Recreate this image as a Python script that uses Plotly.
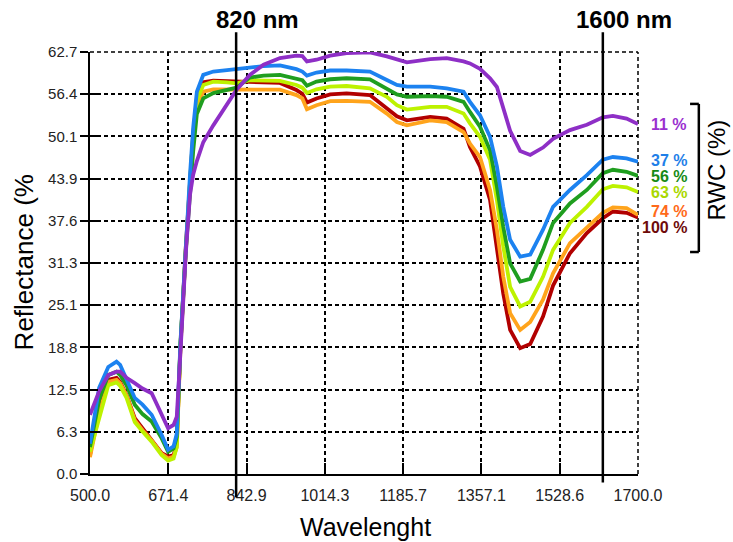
import plotly.graph_objects as go

# ---------------- data ----------------
wavelength = [500, 520, 540, 558, 566, 580, 598, 615, 635, 657, 671, 683, 690, 698, 710, 719, 726, 734,
              748, 770, 800, 821, 850, 880, 916, 952, 965, 975, 996, 1026, 1062, 1113, 1150, 1172, 1194,
              1245, 1281, 1318, 1332, 1354, 1376, 1391, 1405, 1420, 1442, 1464, 1492, 1514, 1551, 1588,
              1623, 1645, 1675, 1700]

rwc_11 = [8.8, 12.3, 14.7, 15.2, 15.2, 14.3, 13.5, 12.7, 12.0, 8.8, 6.8, 7.3, 8.5, 18.0, 33.0, 41.5, 44.5, 46.5,
          49.3, 51.8, 55.0, 57.1, 59.3, 60.8, 61.8, 62.15, 62.1, 61.3, 61.55, 62.15, 62.55, 62.65, 62.05, 61.55, 61.15,
          61.65, 61.8, 61.3, 61.0, 60.2, 58.8, 57.5, 54.5, 51.0, 48.0, 47.4, 48.5, 49.8, 51.1, 51.9,
          53.0, 53.2, 52.8, 52.0]
rwc_37 = [4.5, 12.8, 15.9, 16.7, 16.2, 14.0, 11.3, 10.3, 8.8, 5.8, 3.6, 4.1, 6.0, 19.5, 34.5, 44.5, 51.5, 56.8,
          59.3, 59.8, 60.0, 60.15, 60.45, 60.6, 60.7, 60.15, 59.8, 59.2, 59.65, 59.95, 59.95, 59.8, 58.55, 57.8, 57.55,
          57.55, 57.3, 56.8, 55.3, 53.3, 50.1, 45.7, 39.7, 34.8, 32.3, 32.6, 36.3, 39.7, 42.2, 44.4,
          46.7, 47.1, 46.9, 46.4]
rwc_56 = [4.0, 11.0, 14.7, 15.2, 14.7, 13.2, 10.3, 8.9, 7.8, 5.3, 3.3, 3.8, 5.5, 19.0, 33.5, 42.0, 48.0, 53.5,
          55.8, 56.6, 57.1, 57.4, 58.9, 59.2, 59.3, 58.8, 58.5, 57.7, 58.3, 58.65, 58.8, 58.65, 57.3, 56.4, 56.05,
          56.15, 56.05, 55.3, 53.8, 51.6, 48.1, 42.7, 36.7, 31.3, 28.6, 29.0, 33.3, 37.3, 40.2, 42.2,
          44.7, 45.2, 44.9, 44.3]
rwc_63 = [3.3, 8.5, 13.2, 13.6, 13.1, 11.3, 7.7, 6.3, 4.8, 2.8, 2.0, 2.3, 4.0, 19.5, 34.0, 43.5, 50.5, 55.5,
          57.8, 58.3, 58.2, 58.05, 58.5, 58.5, 58.4, 57.8, 57.4, 56.6, 57.15, 57.55, 57.65, 57.3, 56.05, 54.8, 54.15,
          54.55, 54.55, 53.55, 52.1, 50.1, 46.7, 40.7, 33.8, 27.8, 24.9, 25.6, 29.3, 33.3, 37.3, 39.7,
          42.3, 42.8, 42.6, 41.9]
rwc_74 = [2.5, 9.0, 13.7, 14.0, 13.5, 11.7, 8.0, 6.5, 5.0, 3.0, 2.3, 2.6, 4.0, 18.5, 33.5, 43.0, 49.5, 54.5,
          56.8, 57.15, 57.1, 57.15, 57.1, 57.1, 57.1, 56.3, 55.8, 54.2, 54.8, 55.4, 55.45, 55.3, 53.55, 52.3, 51.8,
          52.55, 52.3, 50.8, 49.1, 47.1, 42.2, 36.3, 29.3, 23.9, 21.4, 22.6, 25.9, 29.8, 34.3, 36.7,
          38.8, 39.6, 39.5, 38.5]
rwc_100 = [2.8, 10.0, 14.0, 14.3, 13.7, 11.7, 8.3, 6.8, 5.1, 3.1, 2.6, 2.8, 4.5, 19.0, 34.0, 43.5, 50.5, 55.8,
           58.2, 58.45, 58.4, 58.3, 58.3, 58.2, 58.1, 57.05, 56.5, 55.2, 55.8, 56.4, 56.55, 56.3, 54.3, 53.15, 52.55,
           53.05, 52.8, 51.3, 48.6, 45.7, 40.7, 33.8, 26.8, 21.4, 18.7, 19.3, 23.4, 28.0, 32.8, 35.8,
           38.0, 39.0, 38.8, 38.1]

series_names = ["100 %", "74 %", "63 %", "56 %", "37 %", "11 %"]
series_values = [rwc_100, rwc_74, rwc_63, rwc_56, rwc_37, rwc_11]
line_colors = ["#B20000", "#FFA41C", "#BDF200", "#1F9E1F", "#1C82F0", "#8E2FC6"]
label_colors = ["#6E0A0A", "#FF6A1A", "#A9D800", "#168A16", "#1F7FE8", "#9A30CF"]
label_y_paper = [0.583, 0.621, 0.666, 0.706, 0.744, 0.829]

x_tick_vals = [500 + i * 1200 / 7 for i in range(8)]
x_tick_text = ["500.0", "671.4", "842.9", "1014.3", "1185.7", "1357.1", "1528.6", "1700.0"]
y_tick_vals = [i * 6.27 for i in range(11)]
y_tick_text = ["0.0", "6.3", "12.5", "18.8", "25.1", "31.3", "37.6", "43.9", "50.1", "56.4", "62.7"]

marker_lines = [820, 1623]
marker_text = ["820 nm", "1600 nm"]

FONT = "Liberation Sans, Arial, sans-serif"
DASH = "4px,3px"

fig = go.Figure()
for name, vals, col in zip(series_names, series_values, line_colors):
    fig.add_trace(go.Scatter(x=wavelength, y=vals, mode="lines", name=name,
                             line=dict(color=col, width=3.8), showlegend=False, hoverinfo="skip"))

# invisible trace to make the overlay y-axis (crossing ticks) render
fig.add_trace(go.Scatter(x=[500], y=[0], yaxis="y2", mode="markers", marker=dict(opacity=0),
                         showlegend=False, hoverinfo="skip"))

grid = dict(showgrid=True, gridcolor="#000000", gridwidth=1.5, griddash=DASH)

fig.update_layout(
    width=733, height=542,
    margin=dict(l=90, r=95, t=52, b=68),
    paper_bgcolor="white", plot_bgcolor="white",
    font=dict(family=FONT, color="#222222"),
    xaxis=dict(range=[500, 1700], tickvals=x_tick_vals, ticktext=x_tick_text,
               ticks="inside", ticklen=11, tickwidth=1.5, tickcolor="black",
               showline=True, linecolor="black", linewidth=1.5, zeroline=False,
               tickfont=dict(size=16, color="#222222"), ticklabelstandoff=6, **grid),
    yaxis=dict(range=[0, 62.7], tickvals=y_tick_vals, ticktext=y_tick_text,
               ticks="outside", ticklen=8, tickwidth=1.5, tickcolor="black",
               showline=True, linecolor="black", linewidth=1.5, zeroline=False,
               tickfont=dict(size=15, color="#222222"), **grid),
    yaxis2=dict(range=[0, 62.7], overlaying="y", side="left", anchor="x",
                tickvals=y_tick_vals, ticks="inside", ticklen=8, tickwidth=1.5, tickcolor="black",
                showticklabels=False, showgrid=False, showline=False, zeroline=False),
)

# dashed top and right borders (grid lines at the range ends)
fig.add_shape(type="line", xref="paper", yref="paper", x0=0, x1=1, y0=1, y1=1,
              line=dict(color="black", width=1.5, dash=DASH), layer="below")
fig.add_shape(type="line", xref="paper", yref="paper", x0=1, x1=1, y0=0, y1=1,
              line=dict(color="black", width=1.5, dash=DASH), layer="below")

# vertical marker lines and their labels
bottoms = [-0.055, -0.02]
for xv, txt, yb in zip(marker_lines, marker_text, bottoms):
    fig.add_shape(type="line", xref="x", yref="paper", x0=xv, x1=xv, y0=yb, y1=1.047,
                  line=dict(color="black", width=2.5))
    fig.add_annotation(x=xv, y=1.077, xref="x", yref="paper", text="<b>%s</b>" % txt,
                       showarrow=False, xanchor="center", yanchor="middle", xshift=21,
                       font=dict(size=24, color="black", family=FONT))

# series labels on the right
for name, col, yp in zip(series_names, label_colors, label_y_paper):
    fig.add_annotation(x=1.093, y=yp, xref="paper", yref="paper", text="<b>%s</b>" % name,
                       showarrow=False, xanchor="right", yanchor="middle",
                       font=dict(size=16, color=col, family=FONT))

# bracket
bx0, bx1, by0, by1 = 1.095, 1.111, 0.526, 0.877
fig.add_shape(type="line", xref="paper", yref="paper", x0=bx1, x1=bx1, y0=by0, y1=by1,
              line=dict(color="black", width=2.5))
fig.add_shape(type="line", xref="paper", yref="paper", x0=bx0, x1=bx1, y0=by1, y1=by1,
              line=dict(color="black", width=2.5))
fig.add_shape(type="line", xref="paper", yref="paper", x0=bx0, x1=bx1, y0=by0, y1=by0,
              line=dict(color="black", width=2.5))

fig.add_annotation(x=1.143, y=0.72, xref="paper", yref="paper", text="RWC (%)", textangle=-90,
                   showarrow=False, xanchor="center", yanchor="middle",
                   font=dict(size=24, color="black", family=FONT))

# axis titles
fig.add_annotation(x=-0.12, y=0.502, xref="paper", yref="paper", text="Reflectance (%", textangle=-90,
                   showarrow=False, xanchor="center", yanchor="middle",
                   font=dict(size=26, color="black", family=FONT))
fig.add_annotation(x=0.5036, y=-0.1256, xref="paper", yref="paper", text="Wavelenght",
                   showarrow=False, xanchor="center", yanchor="middle",
                   font=dict(size=25, color="black", family=FONT))

fig.write_html("out.html")
